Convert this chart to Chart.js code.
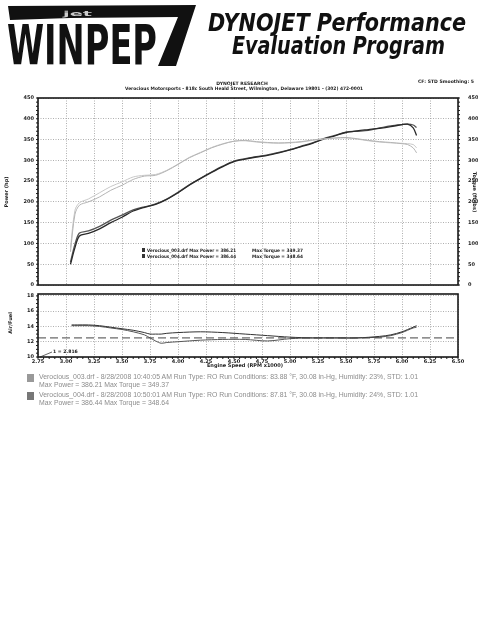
<!DOCTYPE html>
<html lang="en">
<head>
    <meta charset="UTF-8">
    <title>DYNOJET Performance Evaluation Program</title>
    <script src="https://cdn.jsdelivr.net/npm/chart.js"></script>
    <style>
        body {
            margin: 0;
            background: #fff;
            width: 478px;
            height: 640px;
            position: relative;
            overflow: hidden;
            font-family: "DejaVu Sans", sans-serif;
        }
        canvas, svg.overlay {
            position: absolute;
            left: 0;
        }
        #powerChart { top: 91px; }
        #afChart { top: 287px; }
        svg.overlay { top: 0; pointer-events: none; }
    </style>
</head>
<body>
    <canvas id="powerChart" width="478" height="201"></canvas>
    <canvas id="afChart" width="478" height="85"></canvas>

    <svg class="overlay" width="478" height="640" xmlns="http://www.w3.org/2000/svg">
        <!-- logo -->
        <polygon points="8,6 196,5 176,66 158,66 178,17 70,18 10,20" fill="#111"/>
        <text x="63" y="16" font-family="DejaVu Sans" font-weight="bold" font-size="7" fill="#ccc" textLength="29" lengthAdjust="spacingAndGlyphs">jet</text>
        <text x="7" y="64" font-family="DejaVu Sans Condensed" font-weight="bold" font-size="56" fill="#111" textLength="150" lengthAdjust="spacingAndGlyphs">WINPEP</text>

        <text x="208" y="31" font-family="DejaVu Sans" font-weight="bold" font-style="italic" font-size="24" fill="#111" textLength="258" lengthAdjust="spacingAndGlyphs">DYNOJET Performance</text>
        <text x="232" y="54" font-family="DejaVu Sans" font-weight="bold" font-style="italic" font-size="24" fill="#111" textLength="213" lengthAdjust="spacingAndGlyphs">Evaluation Program</text>

        <text x="242" y="85" text-anchor="middle" font-family="DejaVu Sans" font-weight="bold" font-size="4.6" fill="#222">DYNOJET RESEARCH</text>
        <text x="244" y="90" text-anchor="middle" font-family="DejaVu Sans" font-weight="bold" font-size="4.6" fill="#222" textLength="238" lengthAdjust="spacingAndGlyphs">Verocious Motorsports - 818c South Heald Street, Wilmington, Delaware 19801 - (302) 472-0001</text>
        <text x="418" y="83" font-family="DejaVu Sans" font-weight="bold" font-size="4.6" fill="#222" textLength="56" lengthAdjust="spacingAndGlyphs">CF: STD  Smoothing: 5</text>

        <!-- axis titles -->
        <text transform="translate(8,192) rotate(-90)" text-anchor="middle" font-family="DejaVu Sans" font-weight="bold" font-size="5" fill="#222">Power (hp)</text>
        <text transform="translate(473,192) rotate(90)" text-anchor="middle" font-family="DejaVu Sans" font-weight="bold" font-size="5" fill="#222">Torque (ft-lbs)</text>
        <text transform="translate(12,323) rotate(-90)" text-anchor="middle" font-family="DejaVu Sans" font-weight="bold" font-size="5" fill="#222">Air/Fuel</text>
        <text x="245" y="367" text-anchor="middle" font-family="DejaVu Sans" font-weight="bold" font-size="5" fill="#222">Engine Speed (RPM x1000)</text>

        <!-- in-chart legend -->
        <rect x="142" y="248" width="3" height="4" fill="#333"/>
        <rect x="142" y="254" width="3" height="4" fill="#333"/>
        <text x="147" y="252" font-family="DejaVu Sans" font-weight="bold" font-size="4.6" fill="#222" textLength="89" lengthAdjust="spacingAndGlyphs">Verocious_003.drf Max Power = 386.21</text>
        <text x="252" y="252" font-family="DejaVu Sans" font-weight="bold" font-size="4.6" fill="#222" textLength="51" lengthAdjust="spacingAndGlyphs">Max Torque = 349.37</text>
        <text x="147" y="258" font-family="DejaVu Sans" font-weight="bold" font-size="4.6" fill="#222" textLength="89" lengthAdjust="spacingAndGlyphs">Verocious_004.drf Max Power = 386.44</text>
        <text x="252" y="258" font-family="DejaVu Sans" font-weight="bold" font-size="4.6" fill="#222" textLength="51" lengthAdjust="spacingAndGlyphs">Max Torque = 348.64</text>

        <!-- cursor readout -->
        <line x1="52" y1="352" x2="40" y2="357" stroke="#222" stroke-width="0.7"/>
        <text x="53" y="353" font-family="DejaVu Sans" font-weight="bold" font-size="4.6" fill="#222">1 = 2.816</text>

        <!-- run info -->
        <rect x="27" y="374" width="7" height="8" fill="#999"/>
        <rect x="27" y="392" width="7" height="8" fill="#777"/>
        <text x="39" y="379" font-family="Liberation Sans" font-size="7" fill="#8c8c8c" textLength="379" lengthAdjust="spacingAndGlyphs">Verocious_003.drf - 8/28/2008 10:40:05 AM  Run Type: RO  Run Conditions: 83.88 °F, 30.08 in-Hg,  Humidity: 23%, STD: 1.01</text>
        <text x="39" y="387" font-family="Liberation Sans" font-size="7" fill="#8c8c8c" textLength="130" lengthAdjust="spacingAndGlyphs">Max Power = 386.21  Max Torque = 349.37</text>
        <text x="39" y="397" font-family="Liberation Sans" font-size="7" fill="#8c8c8c" textLength="379" lengthAdjust="spacingAndGlyphs">Verocious_004.drf - 8/28/2008 10:50:01 AM  Run Type: RO  Run Conditions: 87.81 °F, 30.08 in-Hg,  Humidity: 24%, STD: 1.01</text>
        <text x="39" y="405" font-family="Liberation Sans" font-size="7" fill="#8c8c8c" textLength="130" lengthAdjust="spacingAndGlyphs">Max Power = 386.44  Max Torque = 348.64</text>
    </svg>

    <script>
        // engine speed (RPM x1000) for the power / torque runs
        const rpm = [3.04, 3.08, 3.12, 3.2, 3.3, 3.4, 3.5, 3.6, 3.7, 3.8, 3.9, 4.0, 4.1, 4.2, 4.3, 4.4, 4.5, 4.6, 4.7, 4.8,
                     4.9, 5.0, 5.1, 5.2, 5.3, 5.4, 5.5, 5.6, 5.7, 5.8, 5.9, 6.0, 6.05, 6.1, 6.13];

        const power003 = [50, 90, 118, 124, 135, 150, 163, 178, 187, 194, 206, 222, 240, 256, 271, 285, 297, 303, 308, 312,
                          318, 325, 333, 341, 351, 359, 367, 371, 374, 377, 381, 386, 387, 378, 360];
        const power004 = [55, 98, 125, 130, 141, 156, 168, 181, 188, 195, 207, 223, 241, 257, 272, 286, 298, 304, 309, 313,
                          319, 326, 334, 342, 352, 360, 368, 370, 372, 378, 383, 386, 387, 385, 379];

        const torque003 = [80, 170, 192, 200, 212, 228, 240, 254, 262, 264, 275, 290, 306, 318, 330, 339, 346, 348, 345, 343,
                           342, 343, 345, 349, 352, 354, 355, 352, 348, 345, 343, 340, 338, 330, 318];
        const torque004 = [90, 180, 198, 207, 222, 237, 248, 260, 264, 266, 276, 291, 307, 319, 331, 340, 346, 347, 344, 342,
                           341, 342, 344, 348, 351, 353, 354, 351, 347, 344, 342, 341, 340, 338, 330];

        // air/fuel
        const afRpm = [3.05, 3.1, 3.2, 3.3, 3.4, 3.5, 3.6, 3.7, 3.75, 3.8, 3.85, 3.9, 4.0, 4.2, 4.4, 4.6, 4.8, 5.0, 5.2,
                       5.4, 5.6, 5.8, 5.9, 6.0, 6.05, 6.1, 6.13];
        const af003 = [14.2, 14.2, 14.2, 14.1, 13.9, 13.7, 13.5, 13.2, 13.0, 13.0, 13.0, 13.1, 13.2, 13.3, 13.2, 13.0, 12.8,
                       12.6, 12.5, 12.5, 12.5, 12.7, 12.9, 13.3, 13.6, 13.9, 14.1];
        const af004 = [14.1, 14.1, 14.1, 14.0, 13.8, 13.6, 13.3, 12.9, 12.5, 12.1, 11.8, 11.9, 12.0, 12.2, 12.3, 12.3, 12.1,
                       12.4, 12.5, 12.5, 12.5, 12.6, 12.8, 13.2, 13.5, 13.8, 13.9];
        const afTarget = 12.5;

        const xTicks = [2.75, 3.0, 3.25, 3.5, 3.75, 4.0, 4.25, 4.5, 4.75, 5.0, 5.25, 5.5, 5.75, 6.0, 6.25, 6.5];
        const powerTicks = [0, 50, 100, 150, 200, 250, 300, 350, 400, 450];
        const afTicks = [10, 12, 14, 16, 18];

        const pts = (xs, ys) => xs.map((x, i) => ({ x: x, y: ys[i] }));
        const tickFont = { family: 'DejaVu Sans', size: 5, weight: 'bold' };
        const dotted = { color: '#9a9a9a', lineWidth: 0.8, drawTicks: false };
        const dottedBorder = { display: false, dash: [1, 1.5] };

        // box around the plot area plus ruler-style minor ticks
        const framePlugin = {
            id: 'frame',
            afterDraw(chart, args, opts) {
                const ctx = chart.ctx, a = chart.chartArea;
                ctx.save();
                ctx.strokeStyle = '#1a1a1a';
                ctx.lineWidth = 1;
                (opts.minor || []).forEach(m => {
                    const s = chart.scales[m.scale];
                    for (let v = s.min; v <= s.max + 1e-9; v += m.step) {
                        const p = s.getPixelForValue(v);
                        ctx.beginPath();
                        if (m.side === 'left') { ctx.moveTo(a.left - 2, p); ctx.lineTo(a.left, p); }
                        if (m.side === 'right') { ctx.moveTo(a.right, p); ctx.lineTo(a.right + 2, p); }
                        if (m.side === 'bottom') { ctx.moveTo(p, a.bottom); ctx.lineTo(p, a.bottom + 2); }
                        ctx.stroke();
                    }
                });
                ctx.lineWidth = 1.6;
                ctx.strokeRect(a.left, a.top, a.right - a.left, a.bottom - a.top);
                ctx.restore();
            }
        };

        const fixTicks = list => scale => { scale.ticks = list.map(v => ({ value: v })); };

        new Chart(document.getElementById('powerChart'), {
            type: 'line',
            data: {
                datasets: [
                    { label: 'Torque 003', data: pts(rpm, torque003), yAxisID: 'y2', borderColor: '#b4b4b4', borderWidth: 1 },
                    { label: 'Torque 004', data: pts(rpm, torque004), yAxisID: 'y2', borderColor: '#c8c8c8', borderWidth: 1 },
                    { label: 'Power 003', data: pts(rpm, power003), yAxisID: 'y', borderColor: '#2a2a2a', borderWidth: 1.3 },
                    { label: 'Power 004', data: pts(rpm, power004), yAxisID: 'y', borderColor: '#555555', borderWidth: 1.3 }
                ]
            },
            options: {
                responsive: false,
                animation: false,
                elements: { point: { radius: 0 }, line: { tension: 0.3 } },
                layout: { padding: { top: 5, bottom: 2, left: 0, right: 0 } },
                plugins: {
                    legend: { display: false },
                    tooltip: { enabled: false },
                    frame: { minor: [{ scale: 'y', side: 'left', step: 10 }, { scale: 'y2', side: 'right', step: 10 }] }
                },
                scales: {
                    x: {
                        type: 'linear', min: 2.75, max: 6.5,
                        afterBuildTicks: fixTicks(xTicks),
                        ticks: { display: false },
                        grid: dotted, border: dottedBorder,
                        afterFit: s => { s.height = 0; }
                    },
                    y: {
                        position: 'left', min: 0, max: 450,
                        afterBuildTicks: fixTicks(powerTicks),
                        ticks: { font: tickFont, color: '#222', padding: 4 },
                        grid: dotted, border: dottedBorder,
                        afterFit: s => { s.width = 38; }
                    },
                    y2: {
                        position: 'right', min: 0, max: 450,
                        afterBuildTicks: fixTicks(powerTicks),
                        ticks: { font: tickFont, color: '#222', padding: 2 },
                        grid: { display: false }, border: { display: false },
                        afterFit: s => { s.width = 20; }
                    }
                }
            },
            plugins: [framePlugin]
        });

        new Chart(document.getElementById('afChart'), {
            type: 'line',
            data: {
                datasets: [
                    { label: 'Target', data: pts([2.75, 6.5], [afTarget, afTarget]), borderColor: '#444', borderWidth: 1, borderDash: [8, 4], tension: 0 },
                    { label: 'AF 003', data: pts(afRpm, af003), borderColor: '#333', borderWidth: 1 },
                    { label: 'AF 004', data: pts(afRpm, af004), borderColor: '#555', borderWidth: 1 }
                ]
            },
            options: {
                responsive: false,
                animation: false,
                elements: { point: { radius: 0 }, line: { tension: 0.3 } },
                layout: { padding: { top: 5, bottom: 0, left: 0, right: 20 } },
                plugins: {
                    legend: { display: false },
                    tooltip: { enabled: false },
                    frame: { minor: [{ scale: 'y', side: 'left', step: 0.5 }, { scale: 'x', side: 'bottom', step: 0.05 }] }
                },
                scales: {
                    x: {
                        type: 'linear', min: 2.75, max: 6.5,
                        afterBuildTicks: fixTicks(xTicks),
                        ticks: { font: tickFont, color: '#222', padding: 2, maxRotation: 0, autoSkip: false,
                                 callback: v => v.toFixed(2) },
                        grid: dotted, border: dottedBorder,
                        afterFit: s => { s.height = 15; }
                    },
                    y: {
                        min: 10, max: 18.25,
                        afterBuildTicks: fixTicks(afTicks),
                        ticks: { font: tickFont, color: '#222', padding: 4 },
                        grid: dotted, border: dottedBorder,
                        afterFit: s => { s.width = 38; }
                    }
                }
            },
            plugins: [framePlugin]
        });
    </script>
</body>
</html>
